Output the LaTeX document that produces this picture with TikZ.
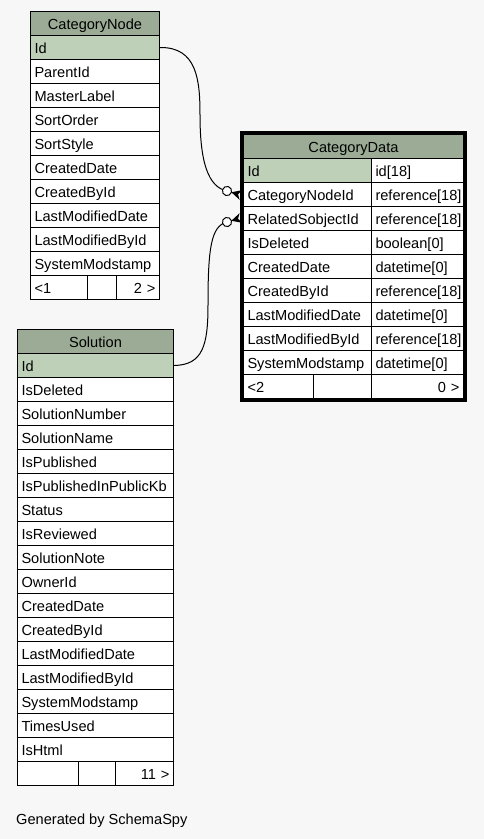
\documentclass[tikz,border=0pt]{standalone}
\usepackage{fontspec}
\setmainfont{Liberation Sans}
\usetikzlibrary{calc}
\definecolor{bgc}{HTML}{F7F7F7}
\definecolor{hdrc}{HTML}{9BAB96}
\definecolor{pkc}{HTML}{BED1B8}
\newcommand\tabfont{\fontsize{14.6}{17}\selectfont}
\begin{document}
\begin{tikzpicture}[x=1pt,y=-1pt,
  cell/.style={draw=black, line width=1pt, fill=white, anchor=north west,
    minimum height=24pt, inner xsep=4pt, inner ysep=0pt, font=\tabfont,
    align=left, text height=11pt, text depth=0pt},
  pk/.style={cell, fill=pkc},
  hdr/.style={cell, fill=hdrc, align=center},
  rcell/.style={cell, align=right},
  edge/.style={draw=black, line width=1pt},
  odot/.style={draw=black, fill=white, line width=1pt},
  crow/.style={fill=black},
]
\useasboundingbox (0,0) rectangle (484,839);
\fill[bgc] (0,0) rectangle (484,839);

% ---------------- CategoryNode ----------------
\node[hdr, text width=121pt] (cnh) at (30,11) {CategoryNode};
\node[pk, text width=121pt] (cnid) at (30,35) {Id};
\foreach \t [count=\i] in {ParentId,MasterLabel,SortOrder,SortStyle,CreatedDate,CreatedById,LastModifiedDate,LastModifiedById,SystemModstamp}
  \node[cell, text width=121pt] (cn\i) at (30,{59+24*(\i-1)}) {\mbox{\t}};
\node[cell, text width=49pt] (cnfa) at (30,275) {<1};
\node[cell, text width=21pt] (cnfb) at (87,275) {};
\node[rcell, text width=35pt] (cnfc) at (116,275) {2 >};

% ---------------- CategoryData ----------------
\node[hdr, text width=212pt] (cdh) at (243,134) {CategoryData};
\node[pk, text width=120pt] (cdid) at (243,158) {Id};
\node[cell, text width=84pt] (cdidt) at (371,158) {id[18]};
\foreach \n/\ty [count=\i] in {CategoryNodeId/{reference[18]},RelatedSobjectId/{reference[18]},IsDeleted/{boolean[0]},CreatedDate/{datetime[0]},CreatedById/{reference[18]},LastModifiedDate/{datetime[0]},LastModifiedById/{reference[18]},SystemModstamp/{datetime[0]}}
{
  \node[cell, text width=120pt] (cd\i) at (243,{182+24*(\i-1)}) {\mbox{\n}};
  \node[cell, text width=84pt] (cdt\i) at (371,{182+24*(\i-1)}) {\mbox{\ty}};
}
\node[cell, text width=62pt] (cdfa) at (243,374) {<2};
\node[cell, text width=50pt] (cdfb) at (313,374) {};
\node[rcell, text width=84pt] (cdfc) at (371,374) {0 >};
\draw[line width=3pt] ($(cdh.north west)+(-1.5,-1.5)$) rectangle ($(cdfc.south east)+(1.5,1.5)$);

% ---------------- Solution ----------------
\node[hdr, text width=148pt] (sh) at (17,329) {Solution};
\node[pk, text width=148pt] (sid) at (17,353) {Id};
\foreach \t [count=\i] in {IsDeleted,SolutionNumber,SolutionName,IsPublished,IsPublishedInPublicKb,Status,IsReviewed,SolutionNote,OwnerId,CreatedDate,CreatedById,LastModifiedDate,LastModifiedById,SystemModstamp,TimesUsed,IsHtml}
  \node[cell, text width=148pt] (s\i) at (17,{377+24*(\i-1)}) {\mbox{\t}};
\node[cell, text width=53pt] (sfa) at (17,761) {};
\node[cell, text width=29pt] (sfb) at (78,761) {};
\node[rcell, text width=50pt] (sfc) at (115,761) {11 >};

% ---------------- connectors ----------------
\coordinate (o1) at (227,191);
\coordinate (o2) at (227,222);
\draw[edge] (cnid.east) .. controls (197,47) and (200,80) .. (200,115)
  .. controls (200,162) and (208,187) .. (o1);
\draw[edge] (sid.east) .. controls (203,365) and (208,345) .. (208,305)
  .. controls (208,248) and (211,226) .. (o2);
\begin{scope}[shift={(o1)}, rotate=-16]
  \fill[crow] (4.5,0) -- (14.5,-5) -- (11.5,0) -- (14.5,5) -- cycle;
  \draw[odot] (0,0) circle (4.6);
\end{scope}
\begin{scope}[shift={(o2)}, rotate=16]
  \fill[crow] (4.5,0) -- (14.5,-5) -- (11.5,0) -- (14.5,5) -- cycle;
  \draw[odot] (0,0) circle (4.6);
\end{scope}

\node[anchor=base west, font=\tabfont, inner sep=0pt] (gen) at (16,824) {Generated by SchemaSpy};
\end{tikzpicture}
\end{document}
